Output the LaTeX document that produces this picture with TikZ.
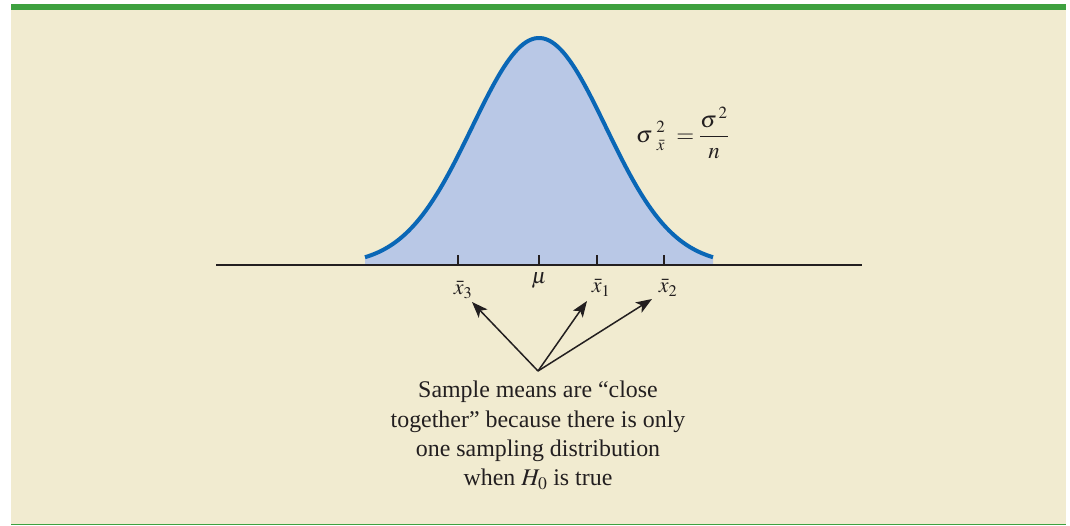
\documentclass[tikz,border=0pt]{standalone}
\usepackage{mathptmx}
\usepackage{fontspec}
\setmainfont{Liberation Serif}
\usetikzlibrary{arrows.meta}
\definecolor{cream}{RGB}{241,235,208}
\definecolor{bargreen}{RGB}{62,161,64}
\definecolor{curveblue}{RGB}{10,103,182}
\definecolor{fillblue}{RGB}{185,200,230}
\definecolor{ink}{RGB}{35,31,32}
\tikzset{
  axisline/.style={draw=ink, line width=2.2pt},
  tickline/.style={draw=ink, line width=1.6pt},
  arrowline/.style={draw=ink, line width=1.5pt, -{Stealth[length=16pt,width=12pt,inset=4pt]}},
  lbl/.style={text=ink, inner sep=0pt, font=\fontsize{22}{26}\selectfont},
  note/.style={text=ink, inner sep=0pt, align=center, font=\fontsize{23.9}{29.3}\selectfont},
}
\begin{document}
\begin{tikzpicture}[x=1pt,y=-1pt]
\useasboundingbox (0,0) rectangle (1070,525);
% background and bars
\fill[cream] (11,4) rectangle (1066,524);
\fill[bargreen] (11,4) rectangle (1066,10);
\fill[bargreen] (11,523.5) rectangle (1066,525);
% filled area under curve
\fill[fillblue] (365,264.7) -- plot[domain=365:713,samples=120,smooth] (\x,{265-227*exp(-((\x-539)/67)^2/2)}) -- (713,264.7) -- cycle;
% ticks
\foreach \t in {458,539,597,664} \draw[tickline] (\t,255) -- (\t,264.7);
% axis
\coordinate (axL) at (216,264.7);
\coordinate (axR) at (862,264.7);
\draw[axisline] (axL) -- (axR);
% curve
\draw[curveblue, line width=4pt] plot[domain=365:713,samples=120,smooth] (\x,{265-227*exp(-((\x-539)/67)^2/2)});
% formula
\node[lbl, anchor=west, font=\fontsize{23}{27}\selectfont] (formula) at (636,133) {$\sigma\,{2\atop\bar{x}}\;=\displaystyle\frac{\sigma^{\,2}}{n}$};
% labels
\node[lbl] (x3) at (463,290) {$\bar{x}_3$};
\node[lbl] (mu) at (539,281) {$\mu$};
\node[lbl] (x1) at (601,288) {$\bar{x}_1$};
\node[lbl] (x2) at (668,288) {$\bar{x}_2$};
% arrows
\coordinate (o) at (538,371);
\coordinate (t3) at (472,302);
\coordinate (t1) at (587,301);
\coordinate (t2) at (652,299);
\draw[arrowline] (o) -- (t3);
\draw[arrowline] (o) -- (t1);
\draw[arrowline] (o) -- (t2);
% note
\node[note, anchor=north] (txt) at (538,381) {Sample means are “close\\together” because there is only\\one sampling distribution\\when $H_0$ is true};
\end{tikzpicture}
\end{document}
